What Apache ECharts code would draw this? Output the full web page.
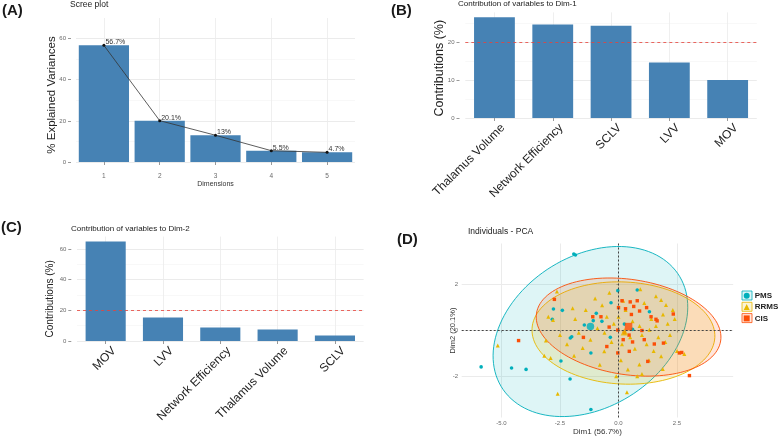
<!DOCTYPE html>
<html><head><meta charset="utf-8">
<script src="https://cdn.jsdelivr.net/npm/echarts@6/dist/echarts.min.js"></script>
<style>html,body{margin:0;padding:0;background:#fff}#c{width:779px;height:437px}</style>
</head><body><div id="c"></div>
<script>
// ---------- Panel A: scree plot ----------
const screeDims = ['1', '2', '3', '4', '5'];
const screeValues = [56.7, 20.1, 13.0, 5.5, 4.7];
const screeLabels = ['56.7%', '20.1%', '13%', '5.5%', '4.7%'];
// ---------- Panel B: contributions to Dim-1 ----------
const dim1Vars = ['Thalamus Volume', 'Network Efficiency', 'SCLV', 'LVV', 'MOV'];
const dim1Contrib = [26.5, 24.6, 24.3, 14.6, 10.0];
// ---------- Panel C: contributions to Dim-2 ----------
const dim2Vars = ['MOV', 'LVV', 'Network Efficiency', 'Thalamus Volume', 'SCLV'];
const dim2Contrib = [64.8, 15.3, 8.8, 7.5, 3.6];
const expectedContrib = 20;
// ---------- Panel D: individuals PCA ----------
const groupNames = ['PMS', 'RRMS', 'CIS'];
const pmsPoints = [[-5.87,-1.59],[-4.57,-1.64],[-3.95,-1.70],[-2.46,-1.33],[-2.07,-2.12],[-1.18,-3.45],
  [-1.91,3.34],[-1.84,3.30],[-2.78,0.94],[-2.40,0.88],[-2.83,0.49],[-2.00,-0.27],[-2.06,-0.33],
  [-1.46,0.24],[-1.08,0.43],[-0.95,0.75],[-0.71,0.40],[-1.18,-0.98],[-0.32,1.21],[-0.03,1.74],
  [0.80,1.77],[1.32,0.82],[0.25,0.28],[0.60,0.05],[-0.35,-0.30]];
const rrmsPoints = [[-5.16,-0.65],[-3.17,-1.10],[-3.10,-0.44],[-2.80,0.46],[-2.63,1.70],[-1.96,0.97],
  [-2.60,-2.76],[0.36,-2.70],[-1.53,-0.76],[-0.61,-0.91],[0.89,-1.49],[-0.39,1.65],[0.93,1.80],
  [1.82,1.33],[2.03,1.11],[2.32,0.90],[2.81,-1.03],[1.32,0.03],[1.89,-1.68],[1.82,-1.13],[-1.85,0.50],
  [-3.00,0.60],[-2.50,-0.20],[-2.20,-0.60],[-1.70,-0.10],[-1.40,0.90],[-1.20,-0.40],[-0.90,0.10],
  [-0.70,1.10],[-0.50,0.60],[-0.30,-0.50],[-0.20,0.30],[0.10,-1.30],[0.30,0.90],[0.50,-0.30],
  [0.60,0.40],[0.70,-0.80],[0.90,0.20],[1.00,-0.20],[1.10,1.20],[1.20,-0.60],[1.40,0.50],[1.50,-0.90],
  [1.60,0.20],[1.70,-0.30],[1.90,0.70],[2.00,-0.50],[2.10,0.30],[2.20,-0.20],[2.40,0.50],[1.30,-1.30],
  [0.40,-1.70],[-0.80,-1.50],[-1.90,-1.10],[-2.90,-1.20],[0.00,0.60],[0.20,1.30],[-1.00,1.40],
  [2.50,-0.90],[1.00,-1.90],[0.80,-2.00],[-0.10,-2.00],[1.60,1.50],[-0.60,-0.10],[0.15,-0.60]];
const cisPoints = [[-2.74,1.36],[-4.27,-0.44],[2.60,-0.98],[2.70,-0.96],[3.03,-1.97],[1.53,-0.59],
  [1.25,-1.35],[1.92,-0.55],[2.34,0.72],[1.60,0.49],[1.65,0.42],[1.39,0.60],[0.00,1.00],[0.15,1.30],
  [0.30,0.95],[0.50,1.25],[0.65,1.05],[0.80,1.30],[0.90,0.85],[0.55,0.70],[-1.10,0.60],[-0.75,0.60],
  [-0.03,-0.98],[0.46,-0.91],[0.60,-0.50],[-0.03,0.02],[0.25,-0.10],[0.45,-0.20],[-1.50,-0.30],
  [-0.50,-0.70],[1.00,0.00],[1.10,-0.40],[0.20,-0.40],[1.20,1.00],[-0.40,0.15]];
const groupMeans = [[-1.20, 0.17], [0.25, -0.05], [0.43, 0.17]];
const ellipseCenters = [[-1.20, -0.045], [0.21, -0.11], [0.43, 0.15]];
const ellipseSemiAxes = [[4.51, 3.28], [3.91, 2.23], [3.98, 2.08]];
const ellipseAnglesDeg = [34.3, -2.8, -8.8];
const dim1Ticks = [-5, -2.5, 0, 2.5];
const dim2Ticks = [-2, 0, 2];

const groupColors = ['#00AFBB', '#E7B800', '#FC4E07'];
const groupFills = ['rgba(0,175,187,0.13)', 'rgba(231,184,0,0.16)', 'rgba(252,78,7,0.14)'];
const groupSymbols = ['circle', 'triangle', 'rect'];
const BAR = '#4682B4';
const FONT = '"Liberation Sans", Arial, sans-serif';
const GRID = '#ebebeb', MINOR = '#f3f3f3', TICKC = '#999', LABC = '#6a6a6a';

function valueY(gi, min, max, interval, name, nameGap, offset, nameSize, shiftDown) {
  return {
    type: 'value', gridIndex: gi, min: min, max: max, interval: interval, offset: offset,
    name: name, nameLocation: 'middle', nameGap: nameGap, nameMoveOverlap: false,
    nameTextStyle: { fontFamily: FONT, fontSize: nameSize, color: '#222', padding: [0, 2 * shiftDown, 0, 0] },
    axisLine: { show: false }, axisTick: { show: true, length: 3, lineStyle: { color: TICKC } },
    axisLabel: { fontFamily: FONT, fontSize: 6, color: LABC, margin: 5, showMaxLabel: false },
    splitLine: { show: true, showMaxLine: false, lineStyle: { color: GRID, width: 1 } },
    minorSplitLine: { show: true, lineStyle: { color: MINOR, width: 0.6 } },
    minorTick: { show: false, splitNumber: 2 }
  };
}
function catX(gi, data, rotate, fontSize, margin, offset) {
  const lab = { fontFamily: FONT, fontSize: fontSize, color: rotate ? '#222' : LABC, rotate: rotate,
    margin: margin, interval: 0 };
  if (rotate) { lab.align = 'right'; lab.verticalAlign = 'top'; lab.padding = [0, -6, 0, 0]; }
  return {
    type: 'category', gridIndex: gi, data: data, offset: offset,
    axisLine: { show: false },
    axisTick: { show: true, alignWithLabel: true, length: 3, lineStyle: { color: TICKC } },
    axisLabel: lab,
    splitLine: { show: false }
  };
}
function vGrid(xi, yi, cats) {
  return {
    type: 'line', xAxisIndex: xi, yAxisIndex: yi, data: [], silent: true, z: 0,
    markLine: { silent: true, symbol: 'none', label: { show: false },
      lineStyle: { color: GRID, width: 0.8, type: 'solid' }, z: 0,
      data: cats.map(c => ({ xAxis: c })) }
  };
}
function barSeries(xi, yi, data, width) {
  return { type: 'bar', xAxisIndex: xi, yAxisIndex: yi, data: data, barWidth: width, z: 2,
    itemStyle: { color: BAR }, silent: true };
}
function refLine() {
  return { silent: true, symbol: 'none', label: { show: false },
    lineStyle: { color: '#e8423a', type: [3, 3], width: 0.8 }, data: [{ yAxis: expectedContrib }] };
}

// ellipse polygons from centre / semi-axes / rotation, projected through the axes
function ellipseRender(params, api) {
  const i = params.dataIndex;
  const c = ellipseCenters[i], ab = ellipseSemiAxes[i], th = ellipseAnglesDeg[i] * Math.PI / 180;
  const pts = [];
  for (let k = 0; k <= 120; k++) {
    const t = 2 * Math.PI * k / 120;
    const x = c[0] + ab[0] * Math.cos(th) * Math.cos(t) - ab[1] * Math.sin(th) * Math.sin(t);
    const y = c[1] + ab[0] * Math.sin(th) * Math.cos(t) + ab[1] * Math.cos(th) * Math.sin(t);
    pts.push(api.coord([x, y]));
  }
  return { type: 'polygon', shape: { points: pts },
    style: { fill: groupFills[i], stroke: groupColors[i], lineWidth: 0.9, opacity: 1 } };
}

const chart = echarts.init(document.getElementById('c'), null, { renderer: 'canvas' });
const texts = [
  { t: '(A)', x: 2, y: 3, s: 15, w: 'bold' },
  { t: '(B)', x: 391, y: 3, s: 15, w: 'bold' },
  { t: '(C)', x: 1, y: 220, s: 15, w: 'bold' },
  { t: '(D)', x: 397, y: 232, s: 15, w: 'bold' },
  { t: 'Scree plot', x: 70, y: 0, s: 8.5, w: 'normal' },
  { t: 'Contribution of variables to Dim-1', x: 458, y: 0, s: 8, w: 'normal' },
  { t: 'Contribution of variables to Dim-2', x: 71, y: 225, s: 8, w: 'normal' },
  { t: 'Individuals - PCA', x: 468, y: 227, s: 8.5, w: 'normal' }
];
const graphics = texts.map(o => ({ type: 'text', left: o.x, top: o.y, silent: true,
  style: { text: o.t, fontFamily: FONT, fontSize: o.s, fontWeight: o.w, fill: '#1a1a1a' } }));
// legend key backgrounds
[291, 302.3, 313.6].forEach((y, i) => graphics.push({ type: 'rect', silent: true, z: 0,
  shape: { x: 742, y: y, width: 10, height: 9 },
  style: { fill: groupFills[i], stroke: groupColors[i], lineWidth: 0.8 } }));

const option = {
  animation: false,
  backgroundColor: '#fff',
  textStyle: { fontFamily: FONT },
  graphic: graphics,
  grid: [
    { left: 76, top: 18, width: 279, height: 144 },
    { left: 465.3, top: 12.4, width: 291.5, height: 105.6 },
    { left: 77, top: 236.6, width: 286.6, height: 104.4 },
    { left: 461.7, top: 243.5, width: 271.5, height: 174 }
  ],
  legend: {
    data: groupNames.map((n, i) => ({ name: n, icon: groupSymbols[i] })),
    orient: 'vertical', left: 743.7, top: 291.3, padding: 0, itemWidth: 6, itemHeight: 6, itemGap: 2.3,
    textStyle: { fontFamily: FONT, fontSize: 8, fontWeight: 'bold', color: '#222', lineHeight: 9 },
    selectedMode: false
  },
  xAxis: [
    Object.assign(catX(0, screeDims, 0, 6.5, 7, 4), {
      name: 'Dimensions', nameLocation: 'middle', nameGap: 13.5,
      nameTextStyle: { fontFamily: FONT, fontSize: 7, color: '#333' } }),
    catX(1, dim1Vars, 45, 12, 3, 5),
    catX(2, dim2Vars, 45, 12, 3, 5),
    { type: 'value', gridIndex: 3, min: -6.7, max: 4.9,
      name: 'Dim1 (56.7%)', nameLocation: 'middle', nameGap: 9,
      nameTextStyle: { fontFamily: FONT, fontSize: 8, color: '#333' },
      axisLine: { show: false },
      axisTick: { show: true, length: 2, customValues: dim1Ticks, lineStyle: { color: TICKC } },
      axisLabel: { fontFamily: FONT, fontSize: 6, color: LABC, margin: 3, customValues: dim1Ticks,
        formatter: v => Number(v).toFixed(1) },
      splitLine: { show: true, lineStyle: { color: GRID, width: 1 } } }
  ],
  yAxis: [
    valueY(0, 0, 70, 20, '% Explained Variances', 13.5, 5, 11.5, 5),
    valueY(1, 0, 27.8, 10, 'Contributions (%)', 13, 5.8, 12.5, 3),
    valueY(2, 0, 68, 20, 'Contributions (%)', 16, 5.7, 10, 10),
    { type: 'value', gridIndex: 3, min: -3.8, max: 3.8,
      name: 'Dim2 (20.1%)', nameLocation: 'middle', nameGap: 5, nameMoveOverlap: false,
      nameTextStyle: { fontFamily: FONT, fontSize: 7.5, color: '#333' },
      axisLine: { show: false },
      axisTick: { show: true, length: 2, customValues: dim2Ticks, lineStyle: { color: TICKC } },
      axisLabel: { fontFamily: FONT, fontSize: 6, color: LABC, margin: 3.5, customValues: dim2Ticks },
      splitLine: { show: true, lineStyle: { color: GRID, width: 1 } } }
  ],
  series: [
    vGrid(0, 0, screeDims),
    barSeries(0, 0, screeValues, '90%'),
    { type: 'line', xAxisIndex: 0, yAxisIndex: 0, data: screeValues, z: 3, silent: true,
      symbol: 'circle', symbolSize: 3, itemStyle: { color: '#111' },
      lineStyle: { color: '#333', width: 0.8 },
      label: { show: true, position: [3, -5], fontFamily: FONT, fontSize: 7, color: '#333',
        formatter: p => screeLabels[p.dataIndex] } },
    vGrid(1, 1, dim1Vars),
    Object.assign(barSeries(1, 1, dim1Contrib, '70%'), { markLine: refLine() }),
    vGrid(2, 2, dim2Vars),
    Object.assign(barSeries(2, 2, dim2Contrib, '70%'), { markLine: refLine() }),
    { type: 'custom', xAxisIndex: 3, yAxisIndex: 3, renderItem: ellipseRender, silent: true, z: 1,
      data: ellipseCenters, clip: true },
    { name: 'PMS', type: 'scatter', xAxisIndex: 3, yAxisIndex: 3, data: pmsPoints, symbol: 'circle',
      symbolSize: 3.6, itemStyle: { color: groupColors[0], opacity: 1 }, z: 3, silent: true,
      markLine: { silent: true, symbol: 'none', label: { show: false },
        lineStyle: { color: '#444', type: [2, 2], width: 1 }, data: [{ xAxis: 0 }, { yAxis: 0 }] } },
    { name: 'RRMS', type: 'scatter', xAxisIndex: 3, yAxisIndex: 3, data: rrmsPoints, symbol: 'triangle',
      symbolSize: 4, itemStyle: { color: groupColors[1], opacity: 1 }, z: 3, silent: true },
    { name: 'CIS', type: 'scatter', xAxisIndex: 3, yAxisIndex: 3, data: cisPoints, symbol: 'rect',
      symbolSize: 3.4, itemStyle: { color: groupColors[2], opacity: 1 }, z: 3, silent: true },
    { name: 'group means', type: 'scatter', xAxisIndex: 3, yAxisIndex: 3, z: 4, silent: true,
      data: groupMeans.map((p, i) => ({ value: p, symbol: groupSymbols[i], symbolSize: 7.5,
        itemStyle: { color: groupColors[i] } })) }
  ]
};
chart.setOption(option);
</script></body></html>
